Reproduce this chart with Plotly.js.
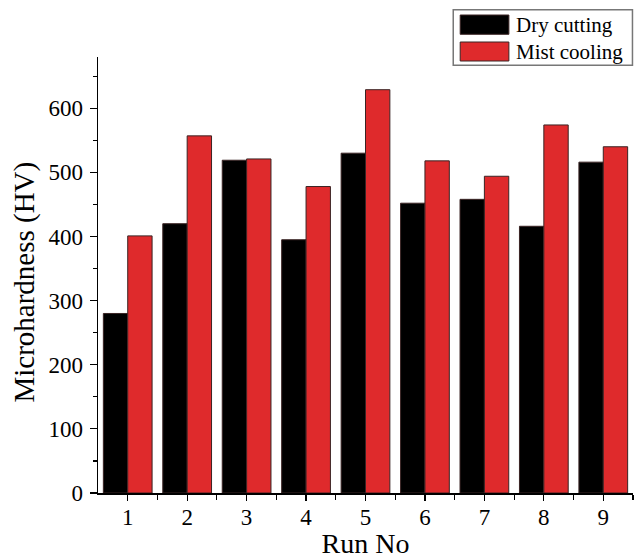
<!DOCTYPE html>
<html>
<head>
<meta charset="utf-8">
<script src="https://cdn.plot.ly/plotly-3.0.1.min.js"></script>
<style>html,body{margin:0;padding:0;background:#fff;}#chart{width:643px;height:559px;}</style>
</head>
<body>
<div id="chart"></div>
<script>
const runs = [1, 2, 3, 4, 5, 6, 7, 8, 9];
const dryCutting = [280, 420, 519, 395, 530, 452, 458, 416, 516];
const mistCooling = [401, 557, 521, 478, 629, 518, 494, 574, 540];
const seriesNames = ["Dry cutting", "Mist cooling"];
const yTicks = [0, 100, 200, 300, 400, 500, 600];
const xTitle = "Run No";
const yTitle = "Microhardness (HV)";

const font = "Liberation Serif, Times New Roman, serif";
const outline = {color: "#3a2424", width: 1};

const traces = [
  {type: "bar", x: runs, y: dryCutting, name: seriesNames[0],
   marker: {color: "#000000", line: outline}, showlegend: false},
  {type: "bar", x: runs, y: mistCooling, name: seriesNames[1],
   marker: {color: "#df2a2c", line: outline}, showlegend: false}
];

const layout = {
  width: 643, height: 559,
  margin: {l: 98, r: 10, t: 57, b: 66},
  paper_bgcolor: "#fff", plot_bgcolor: "#fff",
  barmode: "group", bargap: 0.18, bargroupgap: 0,
  font: {family: font, color: "#000", size: 23},
  xaxis: {
    range: [0.5, 9.5], tickvals: runs, ticktext: runs.map(String),
    showgrid: false, zeroline: false,
    showline: true, linecolor: "#000", linewidth: 1.5,
    ticks: "outside", ticklen: 6, tickwidth: 1.2, tickcolor: "#000",
    minor: {tickvals: [1.5, 2.5, 3.5, 4.5, 5.5, 6.5, 7.5, 8.5, 9.5], ticks: "outside", ticklen: 5, tickwidth: 1.2, tickcolor: "#000", showgrid: false},
    tickfont: {family: font, size: 23, color: "#000"},
    ticklabelstandoff: -3,
    title: {text: xTitle, font: {family: font, size: 28, color: "#000"}, standoff: 4}
  },
  yaxis: {
    range: [0, 680], tickvals: yTicks, ticktext: yTicks.map(String),
    showgrid: false, zeroline: false,
    showline: true, linecolor: "#000", linewidth: 1.5,
    ticks: "outside", ticklen: 7, tickwidth: 1.2, tickcolor: "#000",
    minor: {tickvals: [50, 150, 250, 350, 450, 550, 650], ticks: "outside", ticklen: 4, tickwidth: 1.2, tickcolor: "#000", showgrid: false},
    tickfont: {family: font, size: 23, color: "#000"},
    ticklabelstandoff: 2
  },
  shapes: [
    {type: "rect", xref: "paper", yref: "paper", x0: 0.664, x1: 0.999, y0: 1.1085, y1: 0.981,
     line: {color: "#777", width: 1.5}, fillcolor: "rgba(0,0,0,0)"},
    {type: "rect", xref: "paper", yref: "paper", x0: 0.677, x1: 0.768, y0: 1.0963, y1: 1.0521,
     line: {color: "#3a2424", width: 1}, fillcolor: "#000"},
    {type: "rect", xref: "paper", yref: "paper", x0: 0.677, x1: 0.768, y0: 1.0344, y1: 0.9908,
     line: {color: "#3a2424", width: 1}, fillcolor: "#df2a2c"}
  ],
  annotations: [
    {xref: "paper", yref: "paper", x: 0.778, y: 1.0743, xanchor: "left", yanchor: "middle",
     text: seriesNames[0], showarrow: false, font: {family: font, size: 21, color: "#000"}},
    {xref: "paper", yref: "paper", x: 0.778, y: 1.0126, xanchor: "left", yanchor: "middle",
     text: seriesNames[1], showarrow: false, font: {family: font, size: 21, color: "#000"}},
    {xref: "paper", yref: "paper", x: -0.138, y: 0.483, xanchor: "center", yanchor: "middle",
     textangle: -90, text: yTitle, showarrow: false, font: {family: font, size: 29, color: "#000"}}
  ]
};

Plotly.newPlot("chart", traces, layout, {displayModeBar: false, staticPlot: true});
</script>
</body>
</html>
